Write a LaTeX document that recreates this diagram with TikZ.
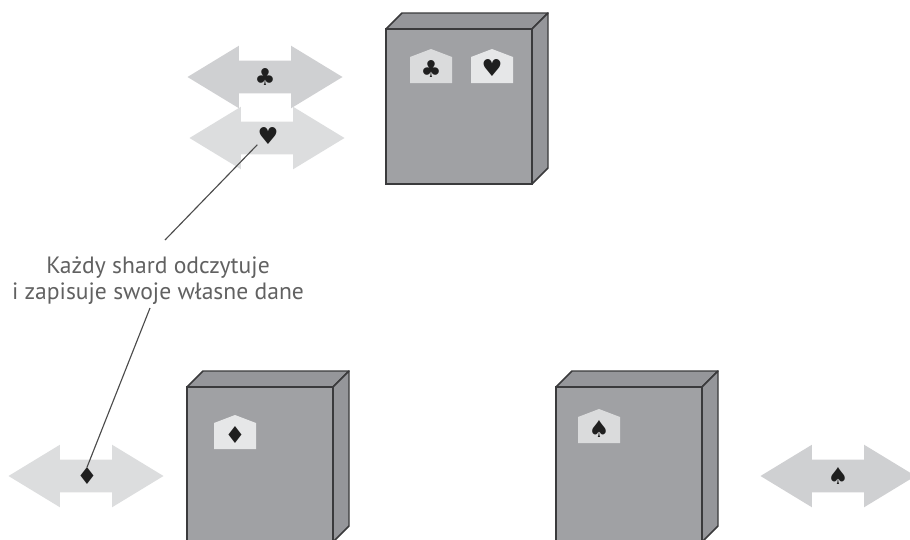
\documentclass[tikz,border=0pt]{standalone}
\usepackage{fontspec}
\setmainfont{PT Sans}
\newfontfamily\suitfont{DejaVu Sans}
\usetikzlibrary{shapes.arrows, positioning}

\begin{document}
\begin{tikzpicture}[
  x=0.75pt, y=-0.75pt,
  shardarrow/.style={double arrow, draw=none, inner xsep=0pt, inner ysep=12pt, minimum height=116.25pt, minimum width=46.5pt,
    double arrow head extend=11.25pt, double arrow tip angle=62.6},
  suit/.style={font=\suitfont\fontsize{17.5}{17.5}\selectfont, text=black!88, inner sep=0pt},
  lead/.style={draw=black!70, line width=0.85pt},
  frontface/.style={fill=front, draw=edge, line width=1.2pt},
  topface/.style={fill=shade, draw=edge, line width=1.1pt, line join=round},
  pics/shardbox/.style={code={
    \draw[topface] (0,0) -- (16,-16) -- (162,-16) -- (146,0) -- cycle;
    \draw[topface] (146,0) -- (162,-16) -- (162,139) -- (146,155) -- cycle;
    \draw[frontface] (0,0) rectangle (146,155);
  }},
  pics/housetag/.style={code={
    \fill[#1] (-21,17) -- (-21,-9) -- (0,-17) -- (21,-9) -- (21,17) -- cycle;
  }}
]
  \definecolor{front}{HTML}{A0A1A4}
  \definecolor{shade}{HTML}{95969A}
  \definecolor{edge}{HTML}{3A3A3C}
  \definecolor{lightA}{HTML}{CFD0D2}
  \definecolor{lightB}{HTML}{DCDDDE}
  \definecolor{tagA}{HTML}{DADBDC}
  \definecolor{tagB}{HTML}{E6E7E8}
  \clip (0,0) rectangle (910,539);

  % Boxes
  \pic at (386,29) {shardbox};
  \pic at (187,387) {shardbox};
  \pic at (556,387) {shardbox};

  % Tags on the boxes
  \pic at (431,66) {housetag=tagA};
  \pic at (492,66) {housetag=tagB};
  \pic at (235,432) {housetag=tagB};
  \pic at (599,426) {housetag=tagA};
  \node[suit] (tagclub) at (431,69) {♣};
  \node[suit] (tagheart) at (492,68) {♥};
  \node[suit] (tagdiamond) at (235,435) {♦};
  \node[suit] (tagspade) at (599,429) {♠};

  % Read and write arrows
  \node[shardarrow, fill=lightA] (clubarrow) at (265,77) {};
  \node[shardarrow, fill=lightB] (heartarrow) at (267,138) {};
  \node[shardarrow, fill=lightB] (diamondarrow) at (86,476) {};
  \node[shardarrow, fill=lightA] (spadearrow) at (838,476) {};
  \node[suit] (club) at (265,77) {♣};
  \node[suit] (heart) at (268,136) {♥};
  \node[suit] (diamond) at (87,476) {♦};
  \node[suit] (spade) at (838,476) {♠};

  % Label
  \node[align=center, text=black!62, inner sep=0pt, font=\fontsize{17.7}{19.5}\selectfont] (note) at (158,281)
    {Każdy shard odczytuje\\i zapisuje swoje własne dane};
  \coordinate (noteabove) at (165,240);
  \coordinate (notebelow) at (150,308);
  \draw[lead] (heart.south west) -- (noteabove);
  \draw[lead] (notebelow) -- (diamond.north);
\end{tikzpicture}
\end{document}
